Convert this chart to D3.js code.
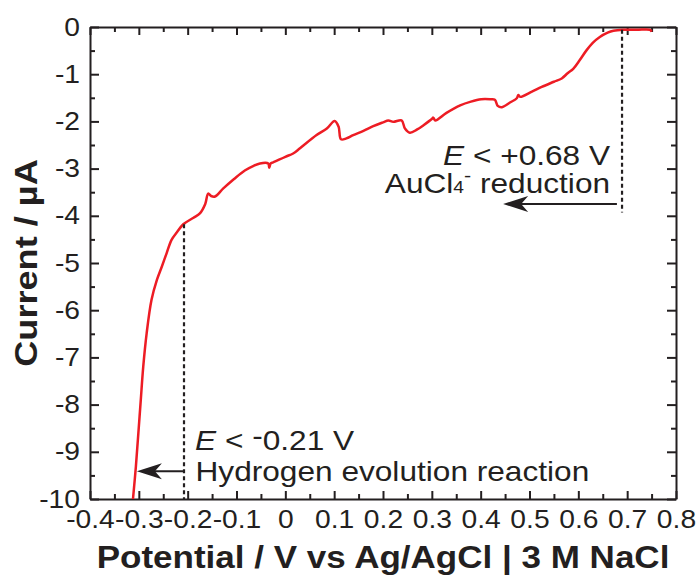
<!DOCTYPE html>
<html>
<head>
<meta charset="UTF-8">
<title>Linear sweep</title>
<script src="https://cdn.jsdelivr.net/npm/d3@7"></script>
<style>
  body { margin: 0; background: #fff; }
  text { font-family: "Liberation Sans", Arial, sans-serif; fill: #231f20; }
</style>
</head>
<body>
<div id="chart"></div>
<script>
const potential = [-0.312, -0.306, -0.301, -0.296, -0.291, -0.284, -0.274, -0.263, -0.253, -0.243,
  -0.233, -0.222, -0.209, -0.188, -0.175, -0.164, -0.158, -0.152, -0.144, -0.127,
  -0.105, -0.083, -0.065, -0.052, -0.035, -0.033, -0.030, -0.025, 0.000, 0.016,
  0.030, 0.064, 0.085, 0.101, 0.109, 0.114, 0.125, 0.139, 0.160, 0.180,
  0.200, 0.211, 0.221, 0.238, 0.245, 0.255, 0.270, 0.283, 0.300, 0.303,
  0.307, 0.330, 0.358, 0.380, 0.401, 0.420, 0.429, 0.435, 0.443, 0.460,
  0.474, 0.477, 0.481, 0.505, 0.525, 0.550, 0.566, 0.578, 0.590, 0.603,
  0.617, 0.630, 0.644, 0.660, 0.672, 0.692, 0.720, 0.747, 0.750];
const current = [-10.0, -9.31, -8.61, -7.90, -7.20, -6.49, -5.78, -5.36, -5.08, -4.79,
  -4.51, -4.35, -4.18, -4.04, -3.95, -3.75, -3.53, -3.58, -3.59, -3.42,
  -3.22, -3.04, -2.94, -2.89, -2.89, -2.98, -2.89, -2.87, -2.75, -2.68,
  -2.57, -2.29, -2.15, -1.99, -2.11, -2.38, -2.36, -2.29, -2.20, -2.10,
  -2.02, -1.98, -2.01, -1.98, -2.15, -2.24, -2.17, -2.08, -1.95, -1.92,
  -1.98, -1.82, -1.66, -1.58, -1.53, -1.53, -1.54, -1.67, -1.70, -1.60,
  -1.51, -1.44, -1.48, -1.37, -1.27, -1.16, -1.09, -0.98, -0.88, -0.70,
  -0.49, -0.33, -0.21, -0.12, -0.08, -0.06, -0.06, -0.06, -0.10];

const xTicks = [-0.4, -0.3, -0.2, -0.1, 0, 0.1, 0.2, 0.3, 0.4, 0.5, 0.6, 0.7, 0.8];
const xTickLabels = ["-0.4", "-0.3", "-0.2", "-0.1", "0", "0.1", "0.2", "0.3", "0.4", "0.5", "0.6", "0.7", "0.8"];
const yTicks = [0, -1, -2, -3, -4, -5, -6, -7, -8, -9, -10];
const yTickLabels = ["0", "-1", "-2", "-3", "-4", "-5", "-6", "-7", "-8", "-9", "-10"];

const width = 697, height = 577;
const margin = {top: 27, right: 21, bottom: 78, left: 90};
const SX = 1.13; // the figure's type runs wide, stretch along the text direction
const ink = "#231f20";

const svg = d3.select("#chart").append("svg").attr("width", width).attr("height", height);

const x = d3.scaleLinear().domain([-0.4, 0.8]).range([margin.left, width - margin.right]);
const y = d3.scaleLinear().domain([-10, 0]).range([height - margin.bottom, margin.top]);

const xMinor = d3.range(-0.35, 0.8, 0.1);
const yMinor = d3.range(-9.5, 0, 1);

function styleAxis(g) {
  g.select(".domain").attr("stroke", ink).attr("stroke-width", 2);
  g.selectAll(".tick line").attr("stroke", ink).attr("stroke-width", 2);
}

// bottom
const gxb = svg.append("g").attr("transform", `translate(0,${y(-10)})`)
  .call(d3.axisBottom(x).tickValues(xTicks).tickSize(-8).tickSizeOuter(0).tickPadding(11)
    .tickFormat((d, i) => xTickLabels[i]));
styleAxis(gxb);
gxb.selectAll("text").attr("font-size", 25).attr("fill", ink).attr("transform", `scale(${SX},1)`);
svg.append("g").attr("transform", `translate(0,${y(-10)})`)
  .call(d3.axisBottom(x).tickValues(xMinor).tickSize(-5).tickFormat("")).call(styleAxis)
  .select(".domain").remove();

// top
const gxt = svg.append("g").attr("transform", `translate(0,${y(0)})`)
  .call(d3.axisTop(x).tickValues(xTicks).tickSize(-8).tickSizeOuter(0).tickFormat(""));
styleAxis(gxt);
svg.append("g").attr("transform", `translate(0,${y(0)})`)
  .call(d3.axisTop(x).tickValues(xMinor).tickSize(-5).tickFormat("")).call(styleAxis)
  .select(".domain").remove();

// left
const gyl = svg.append("g").attr("transform", `translate(${x(-0.4)},0)`)
  .call(d3.axisLeft(y).tickValues(yTicks).tickSize(-9).tickSizeOuter(0).tickPadding(10 / SX)
    .tickFormat((d, i) => yTickLabels[i]));
styleAxis(gyl);
gyl.selectAll("text").attr("font-size", 25).attr("fill", ink).attr("transform", `scale(${SX},1)`);
svg.append("g").attr("transform", `translate(${x(-0.4)},0)`)
  .call(d3.axisLeft(y).tickValues(yMinor).tickSize(-5).tickFormat("")).call(styleAxis)
  .select(".domain").remove();

// right
const gyr = svg.append("g").attr("transform", `translate(${x(0.8)},0)`)
  .call(d3.axisRight(y).tickValues(yTicks).tickSize(-9).tickSizeOuter(0).tickFormat(""));
styleAxis(gyr);
svg.append("g").attr("transform", `translate(${x(0.8)},0)`)
  .call(d3.axisRight(y).tickValues(yMinor).tickSize(-5).tickFormat("")).call(styleAxis)
  .select(".domain").remove();

// axis titles
svg.append("text")
  .attr("transform", `translate(${(x(-0.4) + x(0.8)) / 2},568) scale(${SX},1)`)
  .attr("text-anchor", "middle").attr("font-size", 31).attr("font-weight", "bold")
  .text("Potential / V vs Ag/AgCl | 3 M NaCl");
svg.append("text")
  .attr("transform", `translate(37,${(y(0) + y(-10)) / 2}) rotate(-90) scale(${SX},1)`)
  .attr("text-anchor", "middle").attr("font-size", 32).attr("font-weight", "bold")
  .text("Current / µA");

// the sweep
svg.append("clipPath").attr("id", "plot").append("rect")
  .attr("x", x(-0.4)).attr("y", y(0)).attr("width", x(0.8) - x(-0.4)).attr("height", y(-10) - y(0));

const line = d3.line().curve(d3.curveCatmullRom.alpha(0.5))
  .x((d, i) => x(potential[i])).y(d => y(d));
svg.append("path").attr("d", line(current)).attr("clip-path", "url(#plot)")
  .attr("fill", "none").attr("stroke", "#ed1c24").attr("stroke-width", 2.5)
  .attr("stroke-linejoin", "round");

// onset markers
const onsets = [
  {v: 0.6895, top: -0.06, bottom: -3.93},
  {v: -0.2075, top: -4.18, bottom: -10}
];
svg.selectAll(".onset").data(onsets).join("line").attr("class", "onset")
  .attr("x1", d => x(d.v)).attr("x2", d => x(d.v))
  .attr("y1", d => y(d.top)).attr("y2", d => y(d.bottom))
  .attr("stroke", ink).attr("stroke-width", 2.2).attr("stroke-dasharray", "4,3");

const arrows = [
  {from: 0.679, to: 0.446, i: -3.75},
  {from: -0.2075, to: -0.304, i: -9.41}
];
arrows.forEach(a => {
  const tip = x(a.to), yy = y(a.i);
  svg.append("line").attr("x1", x(a.from)).attr("x2", tip + 10).attr("y1", yy).attr("y2", yy)
    .attr("stroke", ink).attr("stroke-width", 2);
  svg.append("path")
    .attr("d", `M${tip},${yy} L${tip + 25},${yy - 8} L${tip + 18},${yy} L${tip + 25},${yy + 8} Z`)
    .attr("fill", ink);
});

// annotations
function note(v, i, anchor) {
  return svg.append("text").attr("transform", `translate(${x(v)},${y(i)}) scale(${SX},1)`)
    .attr("text-anchor", anchor).attr("font-size", 28);
}
let t = note(0.665, -2.92, "end");
t.append("tspan").attr("font-style", "italic").text("E");
t.append("tspan").text(" < +0.68 V");
t = note(0.665, -3.52, "end");
t.append("tspan").text("AuCl");
t.append("tspan").attr("font-size", 17).text("4");
t.append("tspan").attr("font-size", 19).attr("dy", -11).text("-");
t.append("tspan").attr("dy", 11).text(" reduction");

t = note(-0.185, -8.96, "start");
t.append("tspan").attr("font-style", "italic").text("E");
t.append("tspan").text(" < ");
t.append("tspan").attr("dy", -5).text("-");
t.append("tspan").attr("dy", 5).text("0.21 V");
t = note(-0.184, -9.62, "start");
t.text("Hydrogen evolution reaction");
</script>
</body>
</html>
